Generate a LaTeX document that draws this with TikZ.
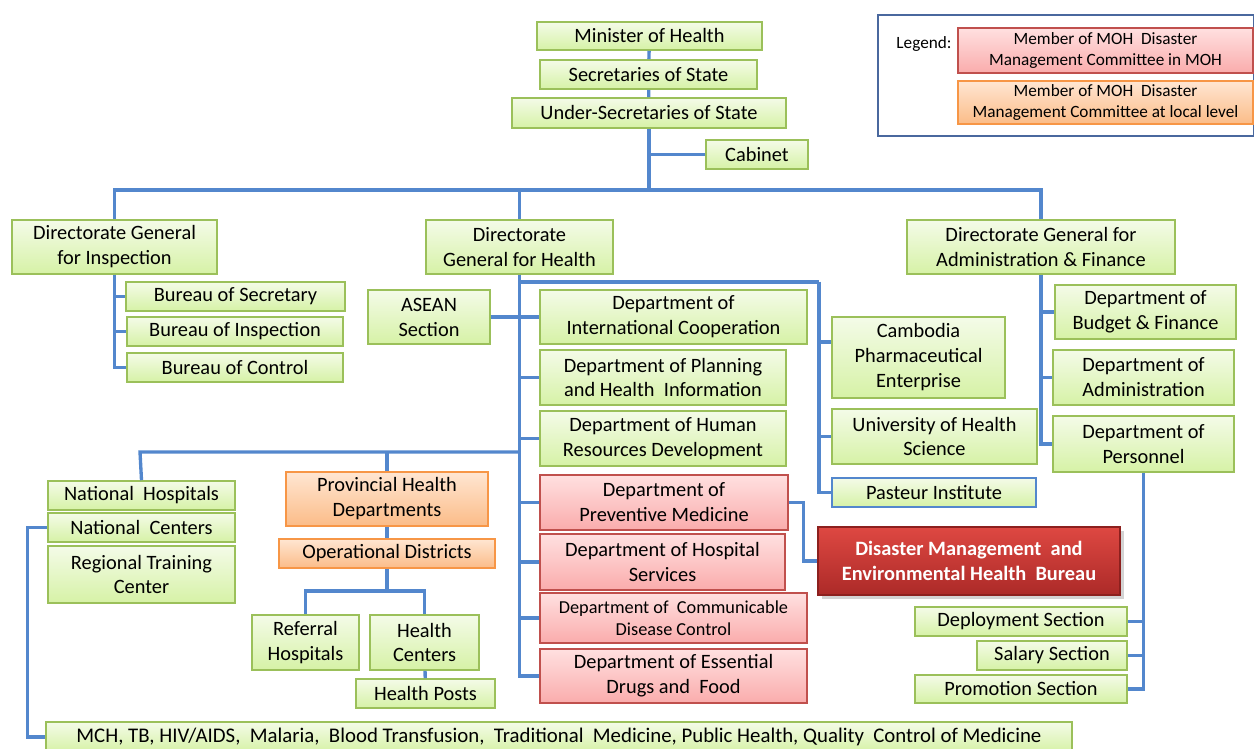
\documentclass[tikz,border=0pt]{standalone}
\usepackage{fontspec}
\setmainfont{Carlito}
\usetikzlibrary{positioning,shadows}

\definecolor{lnblue}{RGB}{83,135,205}
\definecolor{grntop}{RGB}{244,251,232}
\definecolor{grnbot}{RGB}{214,242,166}
\definecolor{grnline}{RGB}{155,192,90}
\definecolor{redtop}{RGB}{255,224,224}
\definecolor{redbot}{RGB}{250,172,172}
\definecolor{redline}{RGB}{192,80,77}
\definecolor{orgtop}{RGB}{255,230,210}
\definecolor{orgbot}{RGB}{251,188,136}
\definecolor{orgline}{RGB}{247,150,70}
\definecolor{dmtop}{RGB}{222,72,66}
\definecolor{dmbot}{RGB}{172,42,40}
\definecolor{dmline}{RGB}{140,32,30}
\definecolor{legline}{RGB}{74,104,158}

\begin{document}
\begin{tikzpicture}[x=0.02cm, y=-0.02cm,
	basic/.style = {draw, rectangle, align=center, inner sep=0pt, line width=0.9pt, font=\fontsize{11.6}{14.2}\selectfont},
	sz/.style 2 args = {minimum width=#1cm, minimum height=#2cm},
	grn/.style  = {basic, draw=grnline, top color=grntop, bottom color=grnbot},
	rd/.style   = {basic, draw=redline, top color=redtop, bottom color=redbot},
	org/.style  = {basic, draw=orgline, top color=orgtop, bottom color=orgbot},
	bureau/.style = {basic, draw=dmline, top color=dmtop, bottom color=dmbot, text=white, font=\fontsize{11.6}{14.2}\selectfont\bfseries, drop shadow={opacity=0.35}},
	link/.style = {draw=lnblue, line width=1.9pt}]
	
	\useasboundingbox (0,0) rectangle (1254,749);
	
	% top of the ministry
	\node[grn, sz={4.50}{0.56}] (min)  at (649.5,36)  {Minister of Health};
	\node[grn, sz={4.34}{0.58}] (sec)  at (648.5,74.5) {Secretaries of State};
	\node[grn, sz={5.48}{0.60}] (usec) at (649,113)   {Under-Secretaries of State};
	\node[grn, sz={2.04}{0.58}] (cab)  at (757,154.5) {Cabinet};
	
	% legend
	\node[draw=legline, line width=1.1pt, sz={7.52}{2.42}] (leg) at (1066,75.5) {};
	\node[font=\fontsize{9.8}{11.9}\selectfont] (legt) at (924,44) {Legend:};
	\node[rd,  sz={5.90}{0.90}, font=\fontsize{9.8}{11.9}\selectfont] (legr) at (1105.5,50.5) {Member of MOH\ \ Disaster\\Management Committee in MOH};
	\node[org, sz={5.90}{0.86}, font=\fontsize{9.8}{11.9}\selectfont] (lego) at (1105.5,102.5) {Member of MOH\ \ Disaster\\Management Committee at local level};
	
	% directorates general
	\node[grn, sz={4.10}{1.08}] (dgi) at (114.5,247) {Directorate General\\for Inspection};
	\node[grn, sz={3.74}{1.08}] (dgh) at (519.5,247) {Directorate\\General for Health};
	\node[grn, sz={5.36}{1.08}] (dga) at (1041,247)  {Directorate General for\\Administration \& Finance};
	
	% inspection
	\node[grn, sz={4.38}{0.58}] (bsec)  at (235.5,296.5) {Bureau of Secretary};
	\node[grn, sz={4.32}{0.58}] (binsp) at (235,331.5)   {Bureau of Inspection};
	\node[grn, sz={4.32}{0.58}] (bctl)  at (235,367.5)   {Bureau of Control};
	
	% health departments
	\node[grn, sz={2.44}{1.08}] (asean) at (429,317)   {ASEAN\\Section};
	\node[grn, sz={5.34}{1.08}] (intl)  at (673.5,317) {Department of\\International Cooperation};
	\node[grn, sz={4.92}{1.10}] (plan)  at (663,377.5) {Department of Planning\\and Health\ \ Information};
	\node[grn, sz={4.92}{1.10}] (hrd)   at (663,438.5) {Department of Human\\Resources Development};
	\node[rd,  sz={4.96}{1.10}] (prev)  at (664,502.5) {Department of\\Preventive Medicine};
	\node[rd,  sz={4.90}{1.12}] (hosp)  at (662.5,562) {Department of Hospital\\Services};
	\node[rd,  sz={5.34}{1.00}, font=\fontsize{10.4}{12.6}\selectfont] (cdc) at (673.5,618) {Department of\ \ Communicable\\Disease Control};
	\node[rd,  sz={5.34}{1.08}] (drug)  at (673.5,676) {Department of Essential\\Drugs and\ \ Food};
	
	% institutions
	\node[grn, sz={3.46}{1.62}] (pharm) at (918.5,357.5) {Cambodia\\Pharmaceutical\\Enterprise};
	\node[grn, sz={4.10}{1.10}] (uhs)   at (934.5,436.5) {University of Health\\Science};
	\node[grn, sz={4.08}{0.58}, draw=lnblue, line width=1.4pt] (past) at (934,492.5) {Pasteur Institute};
	\node[bureau, sz={6.04}{1.36}] (dmb) at (969,561) {Disaster Management\ \ and\\Environmental Health\ \ Bureau};
	
	% administration & finance
	\node[grn, sz={3.62}{1.08}] (bud)  at (1145.5,312)  {Department of\\Budget \& Finance};
	\node[grn, sz={3.62}{1.10}] (adm)  at (1143.5,377.5) {Department of\\Administration};
	\node[grn, sz={3.62}{1.12}] (pers) at (1143.5,444)  {Department of\\Personnel};
	\node[grn, sz={4.24}{0.58}] (depl) at (1021,621.5)  {Deployment Section};
	\node[grn, sz={3.00}{0.58}] (sal)  at (1052,655.5)  {Salary Section};
	\node[grn, sz={4.24}{0.56}] (prom) at (1021,689)    {Promotion Section};
	
	% national and provincial level
	\node[grn, sz={3.74}{0.58}] (nhosp) at (141.5,495.5) {National\ \ Hospitals};
	\node[grn, sz={3.74}{0.58}] (ncen)  at (141.5,527.5) {National\ \ Centers};
	\node[grn, sz={3.74}{1.14}] (rtc)   at (141.5,574.5) {Regional Training\\Center};
	\node[org, sz={4.04}{1.08}] (phd)   at (387,499)     {Provincial Health\\Departments};
	\node[org, sz={4.32}{0.58}] (od)    at (387,553.5)   {Operational Districts};
	\node[grn, sz={2.14}{1.10}] (ref)   at (305.5,642.5) {Referral\\Hospitals};
	\node[grn, sz={2.18}{1.10}] (hc)    at (424.5,642.5) {Health\\Centers};
	\node[grn, sz={2.78}{0.58}] (hp)    at (425.5,693.5) {Health Posts};
	\node[grn, sz={20.52}{0.60}, font=\fontsize{11.85}{14.2}\selectfont] (mch) at (559,737) {MCH, TB, HIV/AIDS,\ \ Malaria,\ \ Blood Transfusion,\ \ Traditional\ \ Medicine, Public Health, Quality\ \ Control of Medicine};
	
	% bus lines
	\coordinate (bus)  at (649,190);
	\coordinate (hub)  at (819,282);
	\coordinate (lbus) at (140,452);
	\coordinate (odbus) at (387,591);
	
	\begin{scope}[every path/.style={link}]
	\draw (min) -- (sec);
	\draw (sec) -- (usec);
	\draw (usec.south) -- (bus);
	\draw (cab.west) -- (cab.west -| usec.south);
	\draw (dgi.north) |- (bus) -| (dga.north);
	\draw (dgh.north) -- (dgh.north |- bus);
	
	\foreach \n in {bsec,binsp,bctl}
	\draw (dgi.south) |- (\n.west);
	
	\foreach \n in {intl,plan,hrd,prev,hosp,cdc,drug}
	\draw (dgh.south) |- (\n.west);
	\draw (asean.east) -- (intl.west);
	
	\draw (dgh.south |- hub) -- (hub);
	\foreach \n in {pharm.170,uhs.west,past.west}
	\draw (hub) |- (\n);
	\draw (prev.east) -- ++(15,0) |- (dmb.west);
	
	\foreach \n in {bud,adm,pers}
	\draw (dga.south) |- (\n.west);
	\foreach \n in {depl,sal,prom}
	\draw (pers.south) |- (\n.east);
	
	\draw (dgh.south |- lbus) -- (lbus) -- (nhosp.north);
	\draw (phd.north) -- (phd.north |- lbus);
	\draw (ncen.west) -- ++(-20,0) |- (mch.west);
	\draw (phd) -- (od);
	\draw (od.south) -- (odbus);
	\draw (ref.north) |- (odbus) -| (hc.north);
	\draw (hc) -- (hp);
	\end{scope}
	
\end{tikzpicture}
\end{document}
